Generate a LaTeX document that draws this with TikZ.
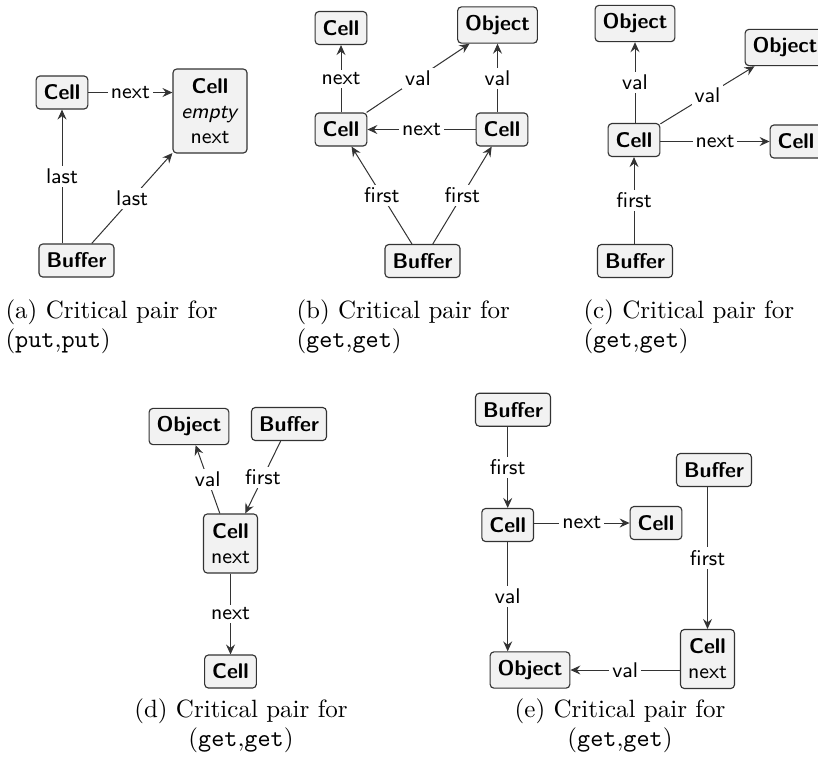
\documentclass[tikz,border=0pt]{standalone}
\usepackage{tikz}
\usetikzlibrary{arrows.meta}
\usepackage{xcolor}

\tikzset{
  heapbox/.style={draw=black!80, fill=black!5, rounded corners=1.5pt, line width=0.45pt,
    inner xsep=3pt, minimum height=13.2pt, font=\sffamily\fontsize{8.5}{10}\selectfont},
  heapcell/.style={heapbox, align=center, minimum width=21.2pt, minimum height=23.6pt},
  ref/.style={draw=black!80, line width=0.4pt, -{Stealth[length=4pt,width=3.6pt,inset=1.4pt]}},
  reflbl/.style={fill=white, inner sep=1.2pt, font=\sffamily\fontsize{8.5}{10}\selectfont},
  capt/.style={inner sep=0pt, font=\fontsize{10}{11.6}\selectfont}
}

\begin{document}
\begin{tikzpicture}[x=0.4pt,y=0.4pt,yscale=-1]
\useasboundingbox (0,0) rectangle (818,763);

% (a)
\node[heapbox] (aCell) at (62,92.5) {\textbf{Cell}};
\node[heapbox, align=center, minimum width=29.6pt, minimum height=33.6pt] (aEmpty) at (210,111) {\textbf{Cell}\\\textit{empty}\\next};
\node[heapbox] (aBuf) at (76.5,260.5) {\textbf{Buffer}};
\draw[ref] (aCell |- aBuf.north) -- node[reflbl] {last} (aCell);
\draw[ref] (aBuf) -- node[reflbl] {last} (aEmpty);
\draw[ref] (aCell) -- node[reflbl] {next} (aCell -| aEmpty.west);
\node[capt, anchor=north west, align=left] (capA) at (5,299) {(a) Critical pair for\\(\texttt{put},\texttt{put})};

% (b)
\node[heapbox] (bNext) at (341,28) {\textbf{Cell}};
\node[heapbox] (bObj) at (497.5,25) {\textbf{Object}};
\node[heapbox] (bCellL) at (341,129.5) {\textbf{Cell}};
\node[heapbox] (bCellR) at (502,129.5) {\textbf{Cell}};
\node[heapbox] (bBuf) at (422.5,261) {\textbf{Buffer}};
\draw[ref] (bCellL) -- node[reflbl] {next} (bNext);
\draw[ref] (bCellL) -- node[reflbl] {val} (bObj);
\draw[ref] (bObj |- bCellR.north) -- node[reflbl] {val} (bObj);
\draw[ref] (bCellR) -- node[reflbl] {next} (bCellL);
\draw[ref] (bBuf) -- node[reflbl] {first} (bCellL);
\draw[ref] (bBuf) -- node[reflbl] {first} (bCellR);
\node[capt, anchor=north west, align=left] (capB) at (296,299) {(b) Critical pair for\\(\texttt{get},\texttt{get})};

% (c)
\node[heapbox] (cObjA) at (635,23.5) {\textbf{Object}};
\node[heapbox] (cObjB) at (785,47.5) {\textbf{Object}};
\node[heapbox] (cCell) at (634,140) {\textbf{Cell}};
\node[heapbox] (cNext) at (796,141.5) {\textbf{Cell}};
\node[heapbox] (cBuf) at (635,261) {\textbf{Buffer}};
\draw[ref] (cObjA |- cCell.north) -- node[reflbl] {val} (cObjA);
\draw[ref] (cCell) -- node[reflbl] {val} (cObjB);
\draw[ref] (cCell.east |- cNext) -- node[reflbl] {next} (cNext);
\draw[ref] (cCell |- cBuf.north) -- node[reflbl] {first} (cCell);
\node[capt, anchor=north west, align=left] (capC) at (583,299) {(c) Critical pair for\\(\texttt{get},\texttt{get})};

% (d)
\node[heapbox] (dObj) at (189,426.5) {\textbf{Object}};
\node[heapbox] (dBuf) at (289,424) {\textbf{Buffer}};
\node[heapcell] (dCell) at (230.5,543.5) {\textbf{Cell}\\next};
\node[heapbox] (dNext) at (230.5,671.5) {\textbf{Cell}};
\draw[ref] (dCell) -- node[reflbl] {val} (dObj);
\draw[ref] (dBuf) -- node[reflbl] {first} (dCell);
\draw[ref] (dCell) -- node[reflbl] {next} (dNext);
\node[capt, anchor=north, align=center] (capD) at (241,698) {(d) Critical pair for\\(\texttt{get},\texttt{get})};

% (e)
\node[heapbox] (eBufA) at (513,409.7) {\textbf{Buffer}};
\node[heapbox] (eCell) at (507.7,525) {\textbf{Cell}};
\node[heapbox] (eNext) at (656,523) {\textbf{Cell}};
\node[heapbox] (eBufB) at (714,470) {\textbf{Buffer}};
\node[heapcell] (eCellB) at (707.5,659) {\textbf{Cell}\\next};
\node[heapbox] (eObj) at (530,670) {\textbf{Object}};
\draw[ref] (eCell |- eBufA.south) -- node[reflbl] {first} (eCell);
\draw[ref] (eCell.east |- eNext) -- node[reflbl] {next} (eNext);
\draw[ref] (eCell) -- node[reflbl] {val} (eCell |- eObj.north);
\draw[ref] (eCellB |- eBufB.south) -- node[reflbl] {first} (eCellB);
\draw[ref] (eCellB.west |- eObj) -- node[reflbl] {val} (eObj);
\node[capt, anchor=north, align=center] (capE) at (620,698) {(e) Critical pair for\\(\texttt{get},\texttt{get})};

\end{tikzpicture}
\end{document}
